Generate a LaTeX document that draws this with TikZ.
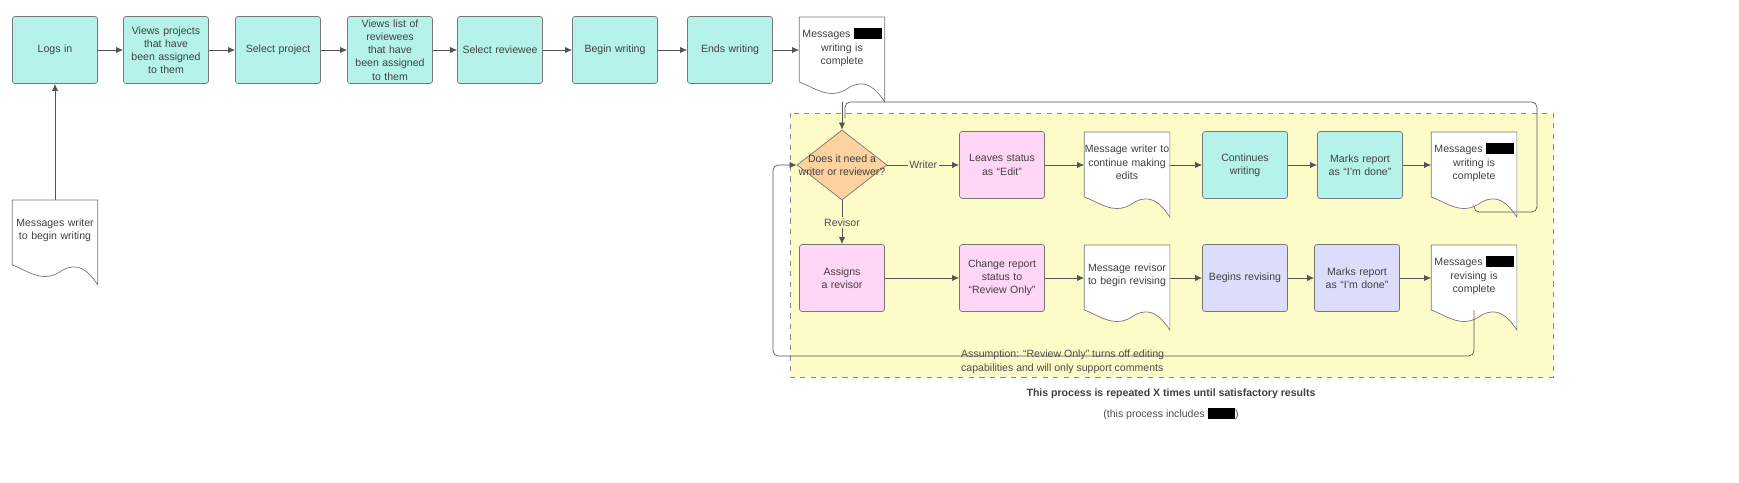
\documentclass[tikz,border=0pt]{standalone}
\usepackage{fontspec}
\setmainfont{Liberation Sans}
\usetikzlibrary{shapes.geometric,arrows.meta,calc}
\definecolor{tealbox}{HTML}{B5F3EA}
\definecolor{pinkbox}{HTML}{FFD6F5}
\definecolor{lavbox}{HTML}{DCDDFB}
\definecolor{orangebox}{HTML}{FCD29F}
\definecolor{yellowbg}{HTML}{FDFBC8}
\definecolor{edge}{HTML}{555555}
\newcommand{\redact}{\textcolor{black}{\rule[-0.25ex]{0.55cm}{1.05em}}}
\tikzset{
  task/.style={draw=edge!80,rounded corners=1.5pt,minimum width=1.7cm,minimum height=1.34cm,
    text width=1.55cm,align=center,inner sep=1pt,font=\fontsize{6}{7.5}\selectfont,text=black!75},
  writer/.style={task,fill=tealbox},
  setter/.style={task,fill=pinkbox},
  reviser/.style={task,fill=lavbox},
  doc/.style={minimum width=1.7cm,minimum height=1.2cm,anchor=north,text width=1.7cm,align=center,
    inner sep=0pt,font=\fontsize{6}{7.5}\selectfont,text=black!75},
  link/.style={draw=edge,thin,-{Latex[length=4pt,width=3.5pt]}},
  tag/.style={fill=yellowbg,inner sep=1pt,font=\fontsize{6}{7.5}\selectfont,text=black!70}
}
\newcommand{\docshape}[1]{%
  \filldraw[fill=white,draw=edge!80] (#1.north west) -- (#1.north east) -- ($(#1.north east)+(0,85)$)
    .. controls ($(#1.north east)+(-10,70)$) and ($(#1.north east)+(-20,62)$) .. ($(#1.north east)+(-35,70)$)
    .. controls ($(#1.north east)+(-55,85)$) and ($(#1.north west)+(15,70)$) .. ($(#1.north west)+(0,65)$) -- cycle;}
\begin{document}
\begin{tikzpicture}[x=0.02cm,y=-0.02cm]
\useasboundingbox (0,0) rectangle (1739,483);
% repeated process area
\filldraw[fill=yellowbg,draw=edge!70,dashed] (790,113) rectangle (1553,377);

% top row
\node[writer] (login) at (55,50) {Logs in};
\node[writer] (projects) at (166,50) {Views projects that have been assigned to them};
\node[writer] (selproj) at (278,50) {Select project};
\node[writer] (reviewees) at (390,50) {Views list of reviewees that have been assigned to them};
\node[writer] (selrev) at (500,50) {Select reviewee};
\node[writer] (begin) at (615,50) {Begin writing};
\node[writer] (ends) at (730,50) {Ends writing};
\node[doc] (done0) at (842,17) {};
\docshape{done0}
\node[doc] at (842,17) {Messages \redact\\writing is complete};
\node[doc] (start) at (55,200) {};
\docshape{start}
\node[doc] at (55,200) {Messages writer\\to begin writing};

% decision
\node[draw=edge!80,fill=orangebox,diamond,minimum width=1.8cm,minimum height=1.4cm,inner sep=0pt] (need) at (842,165) {};
\node[font=\fontsize{6}{7.5}\selectfont,text=black!75,align=center] at (need) {Does it need a\\writer or reviewer?};

% writer row
\node[setter] (edit) at (1002,165) {Leaves status as ``Edit''};
\node[doc] (msgw) at (1127,132) {};
\docshape{msgw}
\node[doc] at (1127,132) {Message writer to\\continue making\\edits};
\node[writer] (cont) at (1245,165) {Continues writing};
\node[writer] (markw) at (1360,165) {Marks report as ``I'm done''};
\node[doc] (donew) at (1474,132) {};
\docshape{donew}
\node[doc] at (1474,132) {Messages \redact\\writing is complete};

% revisor row
\node[setter] (assign) at (842,278) {Assigns a revisor};
\node[setter] (status) at (1002,278) {Change report status to ``Review Only''};
\node[doc] (msgr) at (1127,245) {};
\docshape{msgr}
\node[doc] at (1127,245) {Message revisor\\to begin revising};
\node[reviser] (revise) at (1245,278) {Begins revising};
\node[reviser] (markr) at (1357,278) {Marks report as ``I'm done''};
\node[doc] (doner) at (1474,245) {};
\docshape{doner}
\node[doc] at (1474,245) {Messages \redact\\revising is\\complete};

% notes
\node[anchor=north west,align=left,font=\fontsize{6}{7.5}\selectfont,text=black!70] (note) at (955,344)
  {Assumption: ``Review Only'' turns off editing\\capabilities and will only support comments};
\node[font=\bfseries\fontsize{6}{7.5}\selectfont,text=black!75] (repeat) at (1171,394) {This process is repeated X times until satisfactory results};
\node[font=\fontsize{6}{7.5}\selectfont,text=black!70] (incl) at (1171,414) {(this process includes \redact)};

% connectors
\draw[link] (login) -- (projects);
\draw[link] (projects) -- (selproj);
\draw[link] (selproj) -- (reviewees);
\draw[link] (reviewees) -- (selrev);
\draw[link] (selrev) -- (begin);
\draw[link] (begin) -- (ends);
\draw[link] (ends) -- (done0.west |- ends);
\draw[link] (start) -- (login);
\draw[link] ($(done0.north)+(0,85)$) -- (need);
\draw[link] (need) -- node[tag] {Writer} (edit);
\draw[link] (edit) -- (msgw.west |- edit);
\draw[link] (msgw.east |- cont) -- (cont);
\draw[link] (cont) -- (markw);
\draw[link] (markw) -- (donew.west |- markw);
\draw[link] (need) -- node[tag] {Revisor} (assign);
\draw[link] (assign) -- (status);
\draw[link] (status) -- (msgr.west |- status);
\draw[link] (msgr.east |- revise) -- (revise);
\draw[link] (revise) -- (markr);
\draw[link] (markr) -- (doner.west |- markr);
\draw[draw=edge,thin,rounded corners=3pt] ($(donew.north)+(0,75)$) -- (1474,212) -- (1537,212) -- (1537,102) -- (845,102) -- (845,118);
\draw[link,rounded corners=3pt] ($(doner.north)+(0,65)$) -- (1474,356) -- (773,356) -- (773,165) -- (need.west);
\end{tikzpicture}
\end{document}
